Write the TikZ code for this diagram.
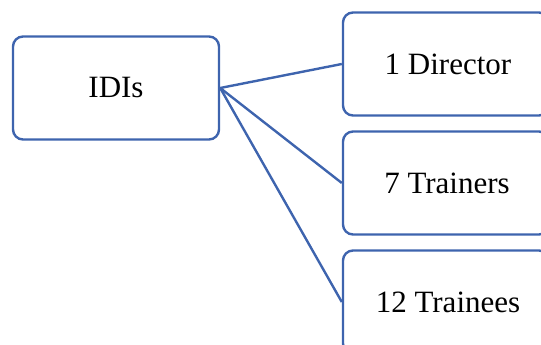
\documentclass[tikz,border=0pt]{standalone}
\usepackage{fontspec}
\setmainfont{Liberation Serif}
\definecolor{boxblue}{HTML}{3E64AE}
\begin{document}
\begin{tikzpicture}[x=1pt,y=-1pt,
  box/.style={draw=boxblue, line width=2.4pt, rounded corners=10pt, fill=white,
    minimum width=206pt, minimum height=103pt, inner sep=0pt,
    font=\fontsize{31}{35}\selectfont},
  link/.style={draw=boxblue, line width=2.4pt}]
\useasboundingbox (0,0) rectangle (541,345);
\clip (0,0) rectangle (541,345);
\node[box] (idi) at (116,88) {IDIs};
\node[box] (dir) at (446,64) {\hspace*{4pt}1 Director};
\node[box] (tra) at (446,183) {\hspace*{2pt}7 Trainers};
\node[box] (tee) at (446,302) {\hspace*{4pt}12 Trainees};
\draw[link] (idi.east) -- (dir.west);
\draw[link] (idi.east) -- (tra.west);
\draw[link] (idi.east) -- (tee.west);
\end{tikzpicture}
\end{document}
